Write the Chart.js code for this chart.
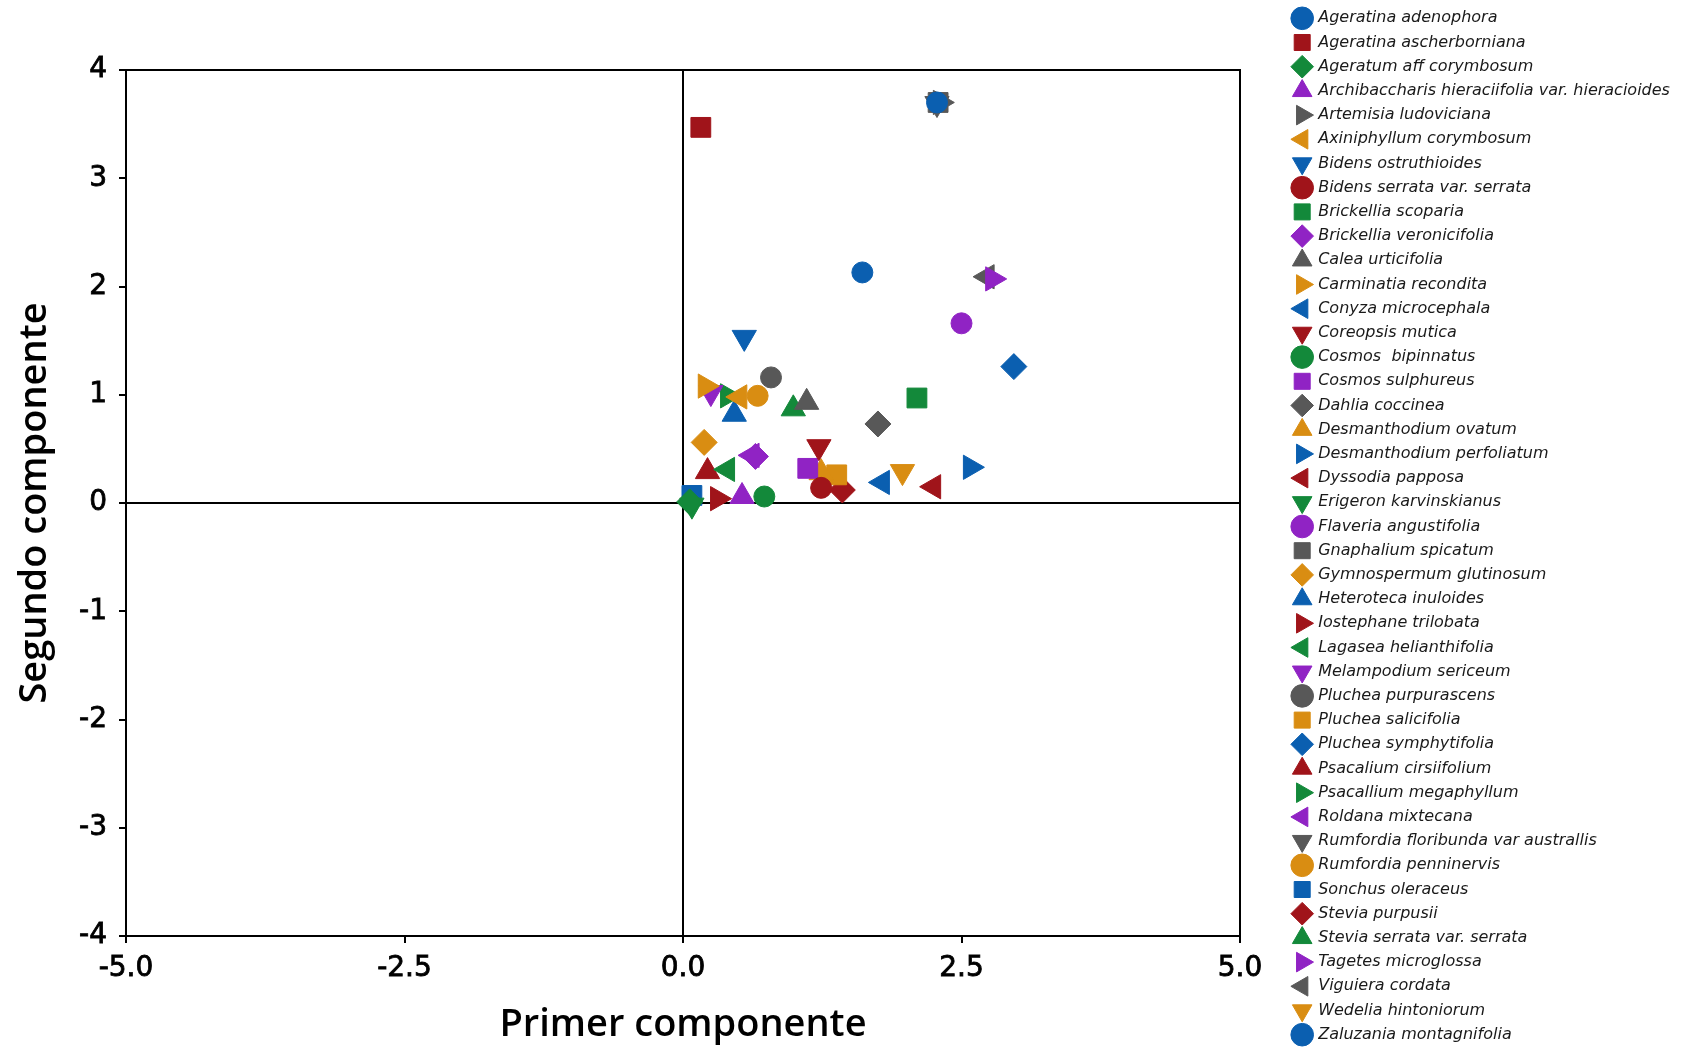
<!DOCTYPE html>
<html>
<head>
<meta charset="utf-8">
<title>Componentes principales</title>
<script src="https://cdn.jsdelivr.net/npm/chart.js@4.4.1/dist/chart.umd.min.js"></script>
<style>
  html, body { margin: 0; padding: 0; background: #fff; }
  #wrap { width: 1683px; height: 1053px; position: relative; }
</style>
</head>
<body>
<div id="wrap"><canvas id="pcaChart"></canvas></div>
<script>
// --- Data ---
const species = [
    'Ageratina adenophora', 'Ageratina ascherborniana', 'Ageratum aff corymbosum',
    'Archibaccharis hieraciifolia var. hieracioides', 'Artemisia ludoviciana',
    'Axiniphyllum corymbosum', 'Bidens ostruthioides', 'Bidens serrata var. serrata',
    'Brickellia scoparia', 'Brickellia veronicifolia', 'Calea urticifolia',
    'Carminatia recondita', 'Conyza microcephala', 'Coreopsis mutica',
    'Cosmos  bipinnatus', 'Cosmos sulphureus', 'Dahlia coccinea',
    'Desmanthodium ovatum', 'Desmanthodium perfoliatum', 'Dyssodia papposa',
    'Erigeron karvinskianus', 'Flaveria angustifolia', 'Gnaphalium spicatum',
    'Gymnospermum glutinosum', 'Heteroteca inuloides', 'Iostephane trilobata',
    'Lagasea helianthifolia', 'Melampodium sericeum', 'Pluchea purpurascens',
    'Pluchea salicifolia', 'Pluchea symphytifolia', 'Psacalium cirsiifolium',
    'Psacallium megaphyllum', 'Roldana mixtecana', 'Rumfordia floribunda var australlis',
    'Rumfordia penninervis', 'Sonchus oleraceus', 'Stevia purpusii',
    'Stevia serrata var. serrata', 'Tagetes microglossa', 'Viguiera cordata',
    'Wedelia hintoniorum', 'Zaluzania montagnifolia'
];

// Primer componente (x)
const pc1 = [
    2.28, 0.16, 0.06, 0.53, 2.31, 0.51, 0.55, 1.24, 2.10, 0.65, 1.11,
    0.20, 1.79, 1.22, 0.73, 1.12, 1.75, 1.24, 2.58, 2.25, 0.08, 2.50,
    2.29, 0.19, 0.46, 0.31, 0.40, 0.25, 0.79, 1.38, 2.97, 0.22, 0.40,
    0.62, 2.28, 0.67, 0.08, 1.43, 0.99, 2.78, 2.73, 1.97, 1.61
];

// Segundo componente (y)
const pc2 = [
    3.70, 3.47, 0.01, 0.06, 3.70, 0.98, 1.53, 0.14, 0.97, 0.43, 0.93,
    1.08, 0.19, 0.52, 0.06, 0.32, 0.73, 0.28, 0.33, 0.15, -0.02, 1.66,
    3.70, 0.56, 0.82, 0.04, 0.31, 1.02, 1.16, 0.26, 1.26, 0.29, 0.99,
    0.44, 3.69, 0.99, 0.07, 0.12, 0.87, 2.07, 2.09, 0.29, 2.13
];

const xTicks = [-5.0, -2.5, 0.0, 2.5, 5.0];
const yTicks = [-4, -3, -2, -1, 0, 1, 2, 3, 4];

// --- Marker styles (shape cycles every 7, colour every 6) ---
const palette = ['#0b5fb0', '#a0141a', '#13893a', '#9023c4', '#585858', '#d98d12'];
const shapes = ['circle', 'rect', 'rectRot', 'triangle', 'triangle', 'triangle', 'triangle'];
const rotations = [0, 0, 0, 0, 90, -90, 180];
const radii = [10.5, 14, 13, 14, 14, 14, 14];

const datasets = species.map((name, i) => {
    const s = i % 7;
    const c = palette[i % 6];
    return {
        label: name,
        data: [{ x: pc1[i], y: pc2[i] }],
        pointStyle: shapes[s],
        pointRotation: rotations[s],
        pointRadius: radii[s],
        pointHoverRadius: radii[s],
        backgroundColor: c,
        borderColor: c,
        borderWidth: 1
    };
});

// Box around the plot area
const frame = {
    id: 'frame',
    afterDraw(chart) {
        const { ctx, chartArea: a } = chart;
        ctx.save();
        ctx.strokeStyle = '#000';
        ctx.lineWidth = 2;
        ctx.strokeRect(a.left, a.top, a.right - a.left, a.bottom - a.top);
        ctx.restore();
    }
};

// Leave a gap between the plot box and the legend column
const legendGap = {
    id: 'legendGap',
    afterLayout(chart) {
        const lg = chart.legend;
        if (lg) {
            lg.left += 46;
            lg.right += 46;
        }
    }
};

const zeroLine = (c) => (c.tick && c.tick.value === 0 ? '#000' : 'rgba(0,0,0,0)');
const tickFont = { family: 'DejaVu Sans', size: 28 };
const titleFont = { family: 'Open Sans', size: 38, weight: 600 };

new Chart(document.getElementById('pcaChart'), {
    type: 'scatter',
    data: { datasets },
    options: {
        responsive: true,
        maintainAspectRatio: false,
        animation: false,
        layout: { padding: 0 },
        plugins: {
            tooltip: { enabled: false },
            legend: {
                position: 'right',
                labels: {
                    usePointStyle: true,
                    padding: 8.2,
                    color: '#1a1a1a',
                    font: { family: 'DejaVu Sans', style: 'italic', size: 16, lineHeight: 1.2 }
                }
            }
        },
        scales: {
            x: {
                type: 'linear',
                min: -5,
                max: 5,
                afterBuildTicks: (scale) => { scale.ticks = xTicks.map(v => ({ value: v })); },
                afterFit: (scale) => { scale.height = 117; scale.paddingRight = 443; },
                ticks: {
                    color: '#000',
                    font: tickFont,
                    padding: 9,
                    maxRotation: 0,
                    textStrokeColor: '#000',
                    textStrokeWidth: 0.8,
                    callback: (v) => Number(v).toFixed(1)
                },
                grid: { color: zeroLine, tickColor: '#000', lineWidth: 2, tickWidth: 2, tickLength: 7 },
                border: { display: true, color: '#000', width: 2 },
                title: {
                    display: true,
                    text: 'Primer componente',
                    color: '#000',
                    font: titleFont,
                    padding: { top: 0, bottom: 5 }
                }
            },
            y: {
                type: 'linear',
                min: -4,
                max: 4,
                afterBuildTicks: (scale) => { scale.ticks = yTicks.map(v => ({ value: v })); },
                afterFit: (scale) => { scale.width = 126; scale.paddingTop = 70; },
                ticks: {
                    color: '#000',
                    font: tickFont,
                    padding: 12,
                    textStrokeColor: '#000',
                    textStrokeWidth: 0.8
                },
                grid: { color: zeroLine, tickColor: '#000', lineWidth: 2, tickWidth: 2, tickLength: 7 },
                border: { display: true, color: '#000', width: 2 },
                title: {
                    display: true,
                    text: 'Segundo componente',
                    color: '#000',
                    font: titleFont,
                    padding: { top: 12, bottom: 0 }
                }
            }
        }
    },
    plugins: [frame, legendGap]
});
</script>
</body>
</html>
